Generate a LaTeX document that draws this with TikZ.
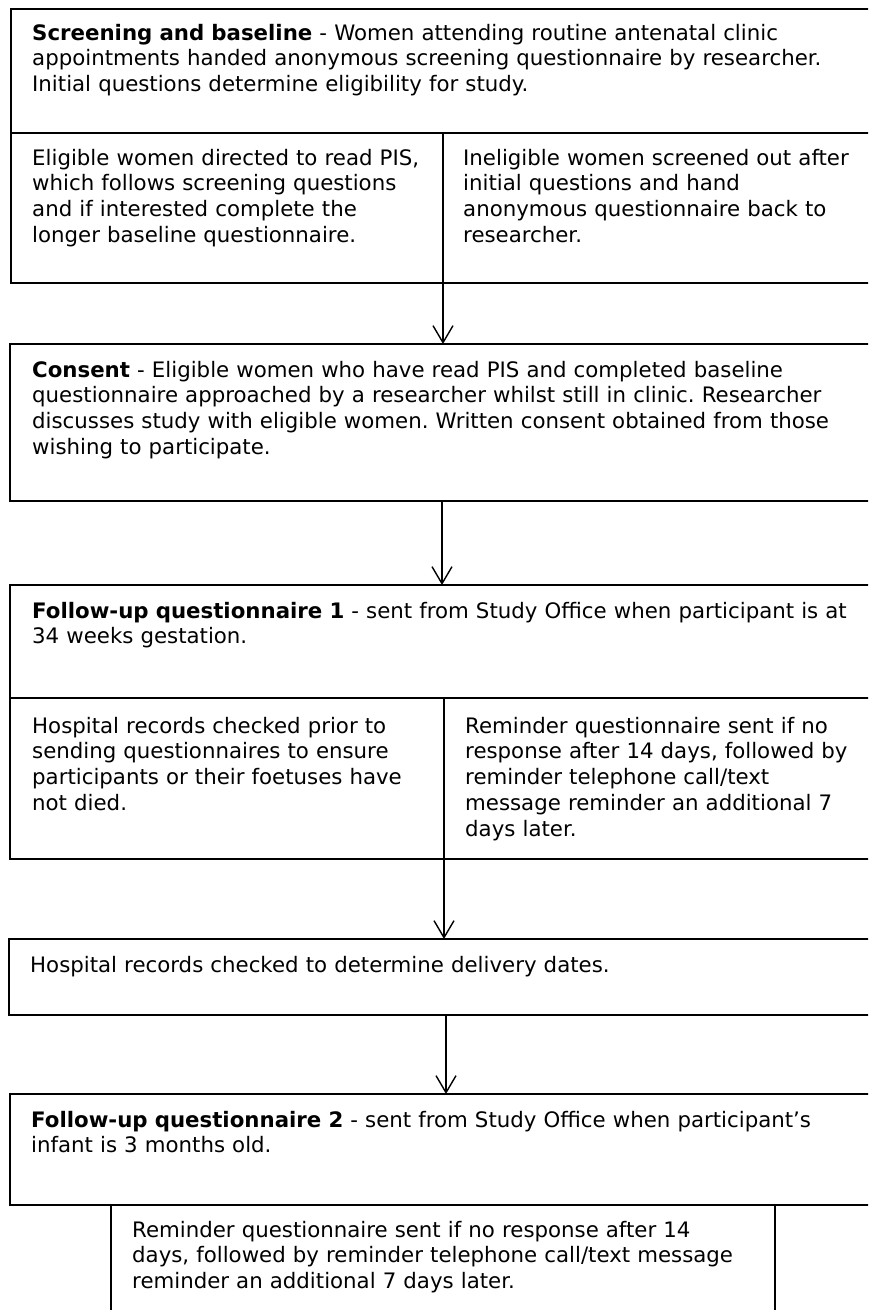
\documentclass[tikz,border=0pt]{standalone}
\usepackage{fontspec}
\setmainfont{DejaVu Sans}
\usetikzlibrary{arrows.meta}
\frenchspacing
\begin{document}
\begin{tikzpicture}[x=1pt,y=-1pt,
  frame/.style={draw=black, line width=1.9pt, rectangle, inner sep=0pt, outer sep=0pt, anchor=north west},
  txt/.style={anchor=base west, inner sep=0pt, align=left, font=\fontsize{21.3}{25.8}\selectfont, text=black},
  full/.style={txt, text width=835pt},
  half/.style={txt, text width=405pt},
  rule/.style={draw=black, line width=1.9pt},
  conn/.style={draw=black, line width=1.4pt, -{Straight Barb[length=17pt,width=20pt,line width=1.4pt]}}]
\useasboundingbox (0,0) rectangle (868,1310);
\fill[white] (0,0) rectangle (868,1310);
\clip (0,0) rectangle (868,1310);
% boxes
\node[frame, minimum width=869pt, minimum height=274pt] (screen) at (11,9) {};
\node[frame, minimum width=870pt, minimum height=157pt] (consent) at (10,344) {};
\node[frame, minimum width=870pt, minimum height=274pt] (fq1) at (10,585) {};
\node[frame, minimum width=871pt, minimum height=76pt] (hosp) at (9,939) {};
\node[frame, minimum width=870pt, minimum height=111pt] (fq2) at (10,1094) {};
% dividers
\coordinate (d1) at (443,133);
\draw[rule] (screen.west |- d1) -- (screen.east |- d1);
\draw[rule] (d1) -- (d1 |- screen.south);
\coordinate (d2) at (444,698);
\draw[rule] (fq1.west |- d2) -- (fq1.east |- d2);
\draw[rule] (d2) -- (d2 |- fq1.south);
% reminder box (open at the bottom)
\coordinate (rl) at (111,1330);
\coordinate (rr) at (775,1330);
\draw[rule] (fq2.south -| rl) -- (rl);
\draw[rule] (fq2.south -| rr) -- (rr);
% texts
\node[full] (t1) at (32,40) {\textbf{Screening and baseline} - Women attending routine antenatal clinic\\appointments handed anonymous screening questionnaire by researcher.\\Initial questions determine eligibility for study.};
\node[half] (t1l) at (32,165) {Eligible women directed to read PIS,\\which follows screening questions\\and if interested complete the\\longer baseline questionnaire.};
\node[half] (t1r) at (463,165) {Ineligible women screened out after\\initial questions and hand\\anonymous questionnaire back to\\researcher.};
\node[full] (t2) at (32,377) {\textbf{Consent} - Eligible women who have read PIS and completed baseline\\questionnaire approached by a researcher whilst still in clinic. Researcher\\discusses study with eligible women. Written consent obtained from those\\wishing to participate.};
\node[full] (t3) at (32,618) {\textbf{Follow-up questionnaire 1} - sent from Study Office when participant is at\\34 weeks gestation.};
\node[half] (t3l) at (32,733) {Hospital records checked prior to\\sending questionnaires to ensure\\participants or their foetuses have\\not died.};
\node[half] (t3r) at (465,733) {Reminder questionnaire sent if no\\response after 14 days, followed by\\reminder telephone call/text\\message reminder an additional 7\\days later.};
\node[full] (t4) at (30,972) {Hospital records checked to determine delivery dates.};
\node[full] (t5) at (31,1127) {\textbf{Follow-up questionnaire 2} - sent from Study Office when participant’s\\infant is 3 months old.};
\node[txt, text width=630pt] (t6) at (132,1237) {Reminder questionnaire sent if no response after 14\\days, followed by reminder telephone call/text message\\reminder an additional 7 days later.};
% connectors
\coordinate (a2) at (442,0);
\coordinate (a3) at (444,0);
\coordinate (a4) at (446,0);
\draw[conn] (d1 |- screen.south) -- (d1 |- consent.north);
\draw[conn] (consent.south -| a2) -- (fq1.north -| a2);
\draw[conn] (fq1.south -| a3) -- (hosp.north -| a3);
\draw[conn] (hosp.south -| a4) -- (fq2.north -| a4);
\end{tikzpicture}
\end{document}
